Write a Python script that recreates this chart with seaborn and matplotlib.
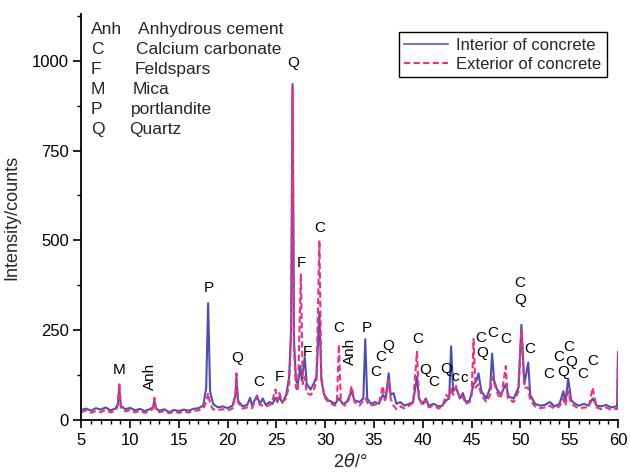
import numpy as np
import pandas as pd
import matplotlib
matplotlib.use("Agg")
import matplotlib.pyplot as plt
import seaborn as sns
from matplotlib.lines import Line2D

# ---------------- data ----------------
x_int = [5.0, 5.5, 6.0, 6.5, 7.0, 7.5, 8.0, 8.5, 8.75, 8.9, 9.05, 9.5, 10.0, 10.5, 11.0, 11.5,
         12.0, 12.35, 12.5, 12.65, 13.0, 13.5, 14.0, 14.5, 15.0, 15.5, 16.0, 16.5, 17.0, 17.5,
         17.8, 18.0, 18.2, 18.5, 19.0, 19.5, 20.0, 20.5, 20.8, 20.9, 21.05, 21.5, 22.0, 22.3,
         22.5, 23.0, 23.3, 23.6, 23.9, 24.3, 24.6, 24.9, 25.1, 25.3, 25.6, 26.0, 26.3, 26.5,
         26.65, 26.8, 27.0, 27.2, 27.45, 27.6, 27.9, 28.1, 28.5, 28.8, 29.1, 29.4, 29.6, 29.9,
         30.3, 30.7, 31.0, 31.4, 31.8, 32.2, 32.7, 33.0, 33.5, 33.9, 34.1, 34.3, 34.7, 35.1,
         35.5, 35.9, 36.2, 36.5, 36.7, 37.0, 37.3, 37.7, 38.1, 38.6, 39.0, 39.4, 39.6, 40.0,
         40.3, 40.6, 41.1, 41.6, 42.0, 42.4, 42.7, 42.9, 43.1, 43.4, 43.8, 44.1, 44.4, 44.8,
         45.2, 45.5, 45.7, 46.0, 46.5, 46.9, 47.1, 47.3, 47.6, 48.0, 48.5, 48.8, 49.3, 49.8,
         50.1, 50.4, 50.8, 51.0, 51.5, 52.0, 52.5, 53.0, 53.5, 54.0, 54.4, 54.6, 54.9, 55.2,
         55.6, 56.0, 56.5, 57.0, 57.4, 57.8, 58.3, 58.8, 59.3, 59.8, 59.9, 60.0]
y_int = [28, 32, 26, 33, 29, 35, 27, 32, 45, 92, 40, 30, 34, 27, 31, 25,
         30, 35, 55, 32, 26, 30, 22, 28, 25, 29, 26, 31, 33, 40,
         90, 325, 80, 45, 35, 38, 33, 40, 70, 120, 55, 38, 42, 62,
         40, 68, 45, 60, 42, 50, 45, 62, 50, 65, 48, 70, 120, 250,
         935, 220, 110, 100, 150, 110, 175, 100, 85, 100, 120, 300, 110, 70,
         55, 50, 45, 60, 45, 50, 80, 55, 50, 60, 225, 60, 45, 50,
         45, 70, 60, 130, 70, 75, 45, 50, 40, 45, 50, 120, 60, 45,
         60, 40, 45, 38, 40, 55, 60, 205, 80, 90, 60, 75, 50, 55,
         100, 110, 130, 80, 60, 90, 185, 110, 85, 70, 100, 65, 60, 90,
         265, 100, 160, 70, 45, 40, 42, 50, 38, 45, 80, 50, 115, 55,
         45, 40, 45, 40, 60, 40, 38, 42, 35, 38, 38, 190]

x_ext = [5.0, 5.5, 6.0, 6.5, 7.0, 7.5, 8.0, 8.5, 8.75, 8.9, 9.05, 9.5, 10.0, 10.5, 11.0, 11.5,
         12.0, 12.35, 12.5, 12.65, 13.0, 13.5, 14.0, 14.5, 15.0, 15.5, 16.0, 16.5, 17.0, 17.5,
         17.8, 18.0, 18.2, 18.5, 19.0, 19.5, 20.0, 20.5, 20.8, 20.9, 21.05, 21.5, 22.0, 22.5,
         23.0, 23.3, 23.6, 24.0, 24.5, 24.9, 25.1, 25.3, 25.6, 26.0, 26.3, 26.5, 26.65, 26.8,
         27.0, 27.2, 27.5, 27.7, 27.9, 28.1, 28.5, 28.8, 29.1, 29.4, 29.6, 29.9, 30.3, 30.7,
         31.0, 31.2, 31.4, 31.6, 32.0, 32.4, 32.7, 33.0, 33.5, 34.1, 34.5, 35.0, 35.5, 35.9,
         36.1, 36.5, 36.7, 37.0, 37.3, 37.7, 38.1, 38.6, 39.0, 39.4, 39.6, 40.0, 40.3, 40.6,
         41.1, 41.6, 42.0, 42.4, 42.7, 42.9, 43.1, 43.4, 43.8, 44.1, 44.4, 44.8, 45.0, 45.2,
         45.4, 45.7, 46.0, 46.5, 46.9, 47.1, 47.4, 47.7, 48.0, 48.5, 48.7, 49.3, 49.8, 50.1,
         50.4, 50.8, 51.0, 51.5, 52.0, 52.5, 53.0, 53.5, 54.0, 54.4, 54.6, 54.9, 55.2, 55.6,
         56.0, 56.5, 57.0, 57.4, 57.8, 58.3, 58.8, 59.3, 59.8, 59.9, 60.0]
y_ext = [22, 27, 20, 25, 22, 28, 21, 26, 40, 105, 35, 24, 28, 21, 26, 20,
         24, 32, 62, 28, 22, 25, 19, 24, 20, 24, 21, 25, 27, 32,
         50, 75, 45, 30, 28, 30, 27, 32, 70, 130, 50, 32, 35, 33,
         65, 42, 40, 38, 45, 85, 55, 75, 50, 60, 100, 240, 925, 200,
         90, 80, 405, 100, 120, 75, 70, 80, 110, 500, 120, 65, 50, 45,
         40, 55, 210, 50, 40, 55, 95, 50, 40, 60, 40, 42, 45, 95,
         55, 110, 60, 40, 30, 38, 32, 40, 48, 190, 60, 40, 55, 35,
         40, 32, 38, 70, 60, 90, 70, 95, 60, 65, 45, 50, 70, 225,
         90, 100, 70, 50, 70, 120, 95, 70, 60, 150, 60, 50, 80, 250,
         90, 90, 55, 38, 33, 35, 40, 32, 38, 60, 40, 80, 45, 38,
         32, 35, 35, 90, 35, 30, 35, 28, 32, 30, 190]

series_names = ["Interior of concrete", "Exterior of concrete"]

peak_text = ["M", "Anh", "P", "Q", "C", "F", "Q", "F", "F", "C", "C", "Anh", "P", "C", "C", "Q",
             "C", "Q", "C", "Q", "c", "c", "C", "Q", "C", "C", "C", "Q", "C", "C", "C", "Q",
             "C", "Q", "C", "C"]
peak_2theta = [8.85, 12.0, 18.1, 20.95, 23.2, 25.25, 26.7, 27.6, 28.2, 29.45, 31.4, 32.5, 34.3,
               35.2, 35.7, 36.5, 39.5, 40.2, 41.15, 42.35, 43.35, 44.2, 45.9, 46.1, 47.2, 48.5,
               49.9, 50.0, 51.0, 52.95, 53.95, 54.35, 54.95, 55.15, 56.4, 57.45]
peak_level = [139, 120, 368, 173, 106, 120, 994, 437, 189, 535, 256, 190, 256,
              134, 175, 206, 226, 139, 106, 143, 121, 116, 228, 187, 242, 226,
              382, 334, 198, 128, 175, 134, 204, 162, 128, 164]

key_abbr = ["Anh", "C", "F", "M", "P", "Q"]
key_name = ["Anhydrous cement", "Calcium carbonate", "Feldspars", "Mica", "portlandite", "Quartz"]

x_ticks = [5, 10, 15, 20, 25, 30, 35, 40, 45, 50, 55, 60]
y_ticks = [0, 250, 500, 750, 1000]

# ---------------- plotting ----------------
sns.set_theme(style="ticks")
plt.rcParams["font.family"] = ["Liberation Sans", "DejaVu Sans"]

df = pd.concat([
    pd.DataFrame({"two_theta": x_int, "intensity": y_int, "sample": series_names[0]}),
    pd.DataFrame({"two_theta": x_ext, "intensity": y_ext, "sample": series_names[1]}),
], ignore_index=True)

blue = "#4b4fb4"
pink = "#f0307c"

fig = plt.figure(figsize=(6.3, 4.76), dpi=100)
ax = fig.add_axes([0.129, 0.1176, 0.852, 0.853])

sns.lineplot(data=df, x="two_theta", y="intensity", hue="sample", style="sample",
             palette={series_names[0]: blue, series_names[1]: pink},
             dashes={series_names[0]: "", series_names[1]: (3.0, 1.6)},
             estimator=None, sort=False, linewidth=1.5, ax=ax, legend=False)

ax.set_xlim(5, 60)
ax.set_ylim(0, 1130)
ax.set_xticks(x_ticks)
ax.set_yticks(y_ticks)
ax.set_xticks(np.arange(5, 61, 1), minor=True)
ax.set_yticks(np.arange(0, 1126, 125), minor=True)
ax.tick_params(axis="both", which="major", direction="out", length=6, width=1.2,
               labelsize=12, colors="black", pad=3)
ax.tick_params(axis="both", which="minor", direction="out", length=3, width=1.0, colors="black")
sns.despine(ax=ax)
for s in ["left", "bottom"]:
    ax.spines[s].set_linewidth(1.3)
    ax.spines[s].set_color("black")

ax.set_xlabel(r"2$\theta$/°", fontsize=13, labelpad=4)
ax.set_ylabel("Intensity/counts", fontsize=13, labelpad=8)

# peak labels
for t, xp, yp in zip(peak_text, peak_2theta, peak_level):
    rot = 90 if t == "Anh" else 0
    ax.text(xp, yp, t, ha="center", va="center", fontsize=11, rotation=rot, color="black")

# key of abbreviations
key_y0 = 0.963
key_dy = 0.0495
for i, (a, n) in enumerate(zip(key_abbr, key_name)):
    yy = key_y0 - i * key_dy
    ax.text(0.018, yy, a, transform=ax.transAxes, ha="left", va="center", fontsize=12.5)
    ax.text(0.105 - i * 0.003, yy, n, transform=ax.transAxes, ha="left", va="center",
            fontsize=12.5)

# legend
handles = [Line2D([], [], color=blue, lw=1.5, alpha=0.75),
           Line2D([], [], color=pink, lw=1.5, ls=(0, (3.0, 1.6)))]
leg = ax.legend(handles, series_names, loc="upper right", bbox_to_anchor=(0.995, 0.975),
                frameon=True, fancybox=False, framealpha=1, edgecolor="black",
                fontsize=12, handlelength=2.6, handletextpad=0.5, borderpad=0.35,
                labelspacing=0.2)
leg.get_frame().set_linewidth(1.0)

fig.savefig("out.png", dpi=100)
